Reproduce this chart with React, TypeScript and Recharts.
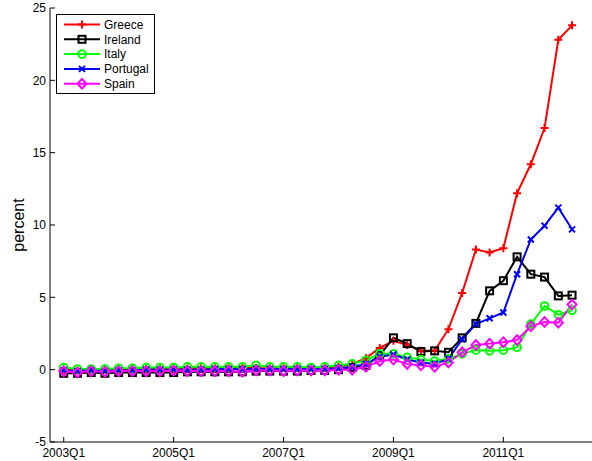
import React from 'react';
import { LineChart, Line, XAxis, YAxis, Legend } from 'recharts';

const quarters = [
  '2003Q1','2003Q2','2003Q3','2003Q4','2004Q1','2004Q2','2004Q3','2004Q4',
  '2005Q1','2005Q2','2005Q3','2005Q4','2006Q1','2006Q2','2006Q3','2006Q4',
  '2007Q1','2007Q2','2007Q3','2007Q4','2008Q1','2008Q2','2008Q3','2008Q4',
  '2009Q1','2009Q2','2009Q3','2009Q4','2010Q1','2010Q2','2010Q3','2010Q4',
  '2011Q1','2011Q2','2011Q3','2011Q4','2012Q1','2012Q2',
];

const greece = [
  0.0, -0.05, 0.0, 0.0, 0.0, 0.05, 0.05, 0.05, 0.05, 0.1, 0.1, 0.1, 0.1, 0.15, 0.1, 0.1, 0.1, 0.15, 0.15, 0.15,
  0.2, 0.4, 0.8, 1.5, 2.0, 1.7, 1.3, 1.3, 2.8, 5.3, 8.3, 8.1, 8.4, 12.2, 14.2, 16.7, 22.8, 23.8,
];
const ireland = [
  -0.25, -0.25, -0.2, -0.25, -0.2, -0.2, -0.2, -0.2, -0.2, -0.15, -0.15, -0.15, -0.15, -0.15, -0.1, -0.1, -0.1, -0.1, -0.05, -0.05,
  0.0, 0.15, 0.3, 1.0, 2.2, 1.8, 1.25, 1.3, 1.2, 2.2, 3.2, 5.45, 6.15, 7.8, 6.6, 6.4, 5.1, 5.15,
];
const italy = [
  0.15, 0.05, 0.05, 0.05, 0.1, 0.1, 0.15, 0.15, 0.15, 0.2, 0.2, 0.2, 0.2, 0.2, 0.3, 0.2, 0.2, 0.2, 0.15, 0.2,
  0.3, 0.4, 0.65, 1.1, 1.1, 0.85, 0.7, 0.6, 0.75, 1.1, 1.35, 1.3, 1.35, 1.55, 3.15, 4.4, 3.8, 4.1,
];
const portugal = [
  -0.05, -0.1, -0.05, -0.1, -0.05, -0.05, 0.0, 0.0, 0.0, 0.0, 0.0, 0.05, 0.05, 0.05, 0.05, 0.05, 0.05, 0.05, 0.05, 0.05,
  0.1, 0.2, 0.4, 0.9, 1.05, 0.7, 0.5, 0.4, 0.75, 2.1, 3.15, 3.55, 3.95, 6.6, 9.0, 9.95, 11.2, 9.7,
];
const spain = [
  -0.1, -0.2, -0.1, -0.15, -0.1, -0.1, -0.1, -0.1, -0.05, -0.1, -0.1, -0.1, -0.1, -0.15, -0.05, -0.05, -0.1, -0.05, -0.05, -0.05,
  0.0, 0.0, 0.2, 0.6, 0.7, 0.4, 0.3, 0.2, 0.5, 1.2, 1.7, 1.8, 1.9, 2.05, 3.0, 3.3, 3.25, 4.5,
];

const xTickIdx = [0, 8, 16, 24, 32];
const xTickLabels = ['2003Q1', '2005Q1', '2007Q1', '2009Q1', '2011Q1'];
const topTickIdx = [0, 8, 16, 24, 32, 40];
const yTicks = [-5, 0, 5, 10, 15, 20, 25];

const data = quarters.map((q, i) => ({
  i,
  q,
  Greece: greece[i],
  Ireland: ireland[i],
  Italy: italy[i],
  Portugal: portugal[i],
  Spain: spain[i],
}));

type Mk = 'plus' | 'square' | 'circle' | 'x' | 'diamond';

const marker = (kind: Mk, cx: number, cy: number, color: string, key?: string) => {
  const sw = 2;
  switch (kind) {
    case 'plus':
      return <path key={key} d={`M${cx - 4},${cy}H${cx + 4}M${cx},${cy - 4}V${cy + 4}`} stroke={color} strokeWidth={sw} fill="none" />;
    case 'square':
      return <rect key={key} x={cx - 3.5} y={cy - 3.5} width={7} height={7} stroke={color} strokeWidth={sw} fill="none" />;
    case 'circle':
      return <circle key={key} cx={cx} cy={cy} r={3.8} stroke={color} strokeWidth={sw} fill="none" />;
    case 'x':
      return <path key={key} d={`M${cx - 3},${cy - 3}L${cx + 3},${cy + 3}M${cx - 3},${cy + 3}L${cx + 3},${cy - 3}`} stroke={color} strokeWidth={sw} fill="none" />;
    default:
      return <path key={key} d={`M${cx},${cy - 4.8}L${cx + 4.5},${cy}L${cx},${cy + 4.8}L${cx - 4.5},${cy}Z`} stroke={color} strokeWidth={sw} fill="none" />;
  }
};

const series: { key: string; color: string; mk: Mk }[] = [
  { key: 'Greece', color: '#ff0000', mk: 'plus' },
  { key: 'Ireland', color: '#000000', mk: 'square' },
  { key: 'Italy', color: '#00ff00', mk: 'circle' },
  { key: 'Portugal', color: '#0000ff', mk: 'x' },
  { key: 'Spain', color: '#ff00ff', mk: 'diamond' },
];

const FONT = 'Liberation Sans, Arial, Helvetica, sans-serif';

const LegendBox = () => (
  <svg width={99} height={80} style={{ display: 'block' }}>
    <rect x={0.5} y={0.5} width={98} height={79} fill="#fff" stroke="#000" strokeWidth={1} />
    {series.map((s, k) => {
      const y = 10.5 + k * 14.8;
      return (
        <g key={s.key}>
          <line x1={8} x2={44} y1={y} y2={y} stroke={s.color} strokeWidth={2} />
          {marker(s.mk, 26, y, s.color)}
          <text x={48} y={y} dy="0.36em" fontSize={12} fontFamily={FONT} fill="#000">{s.key}</text>
        </g>
      );
    })}
  </svg>
);

const YLabel = () => (
  <text
    x={18}
    y={225}
    transform="rotate(-90 18 225)"
    textAnchor="middle"
    dominantBaseline="central"
    fontSize={16}
    fontFamily={FONT}
    fill="#000"
  >
    percent
  </text>
);

export default function App() {
  return (
    <div style={{ position: 'fixed', left: 0, top: 0, width: 592, height: 461, overflow: 'hidden', background: '#fff' }}>
      <LineChart width={640} height={461} data={data} margin={{ top: 8, right: 13, bottom: 0, left: 0 }}>
        <XAxis
          dataKey="i"
          type="number"
          domain={[-1, 41]}
          ticks={xTickIdx}
          tickFormatter={(v: number) => xTickLabels[xTickIdx.indexOf(v)] ?? ''}
          height={19}
          tickSize={-5}
          tickMargin={11}
          axisLine={{ stroke: '#000', strokeWidth: 1 }}
          tickLine={{ stroke: '#000', strokeWidth: 1 }}
          tick={{ fill: '#000', fontSize: 12, fontFamily: FONT }}
          interval={0}
          allowDataOverflow
        />
        <XAxis
          xAxisId="top"
          orientation="top"
          dataKey="i"
          type="number"
          domain={[-1, 41]}
          ticks={topTickIdx}
          tickFormatter={() => ''}
          height={0}
          tickSize={-5}
          axisLine={{ stroke: '#000', strokeWidth: 1 }}
          tickLine={{ stroke: '#000', strokeWidth: 1 }}
          interval={0}
          allowDataOverflow
        />
        <YAxis
          type="number"
          domain={[-5, 25]}
          ticks={yTicks}
          width={50}
          tickSize={-5}
          tickMargin={9}
          axisLine={{ stroke: '#000', strokeWidth: 1 }}
          tickLine={{ stroke: '#000', strokeWidth: 1 }}
          tick={{ fill: '#000', fontSize: 12, fontFamily: FONT }}
          interval={0}
          allowDataOverflow
          label={<YLabel />}
        />
        <Legend
          verticalAlign="middle"
          align="center"
          layout="horizontal"
          content={() => <LegendBox />}
          wrapperStyle={{ position: 'absolute', left: 56, top: 14, width: 99, height: 80 }}
        />
        {series.map((s) => (
          <Line
            key={s.key}
            dataKey={s.key}
            type="linear"
            stroke={s.color}
            strokeWidth={2}
            isAnimationActive={false}
            dot={(p: any) => marker(s.mk, p.cx, p.cy, s.color, `${s.key}-${p.index}`)}
            activeDot={false}
          />
        ))}
      </LineChart>
    </div>
  );
}
